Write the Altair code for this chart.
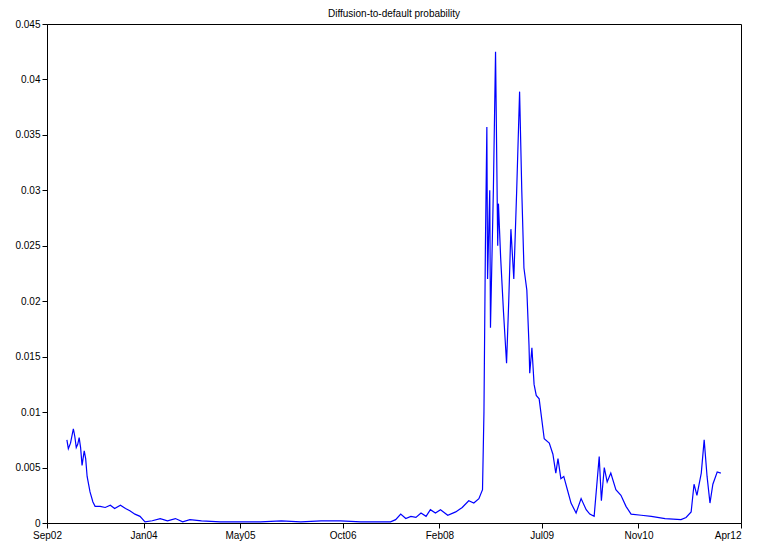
import pandas as pd
import altair as alt

# Values (decimal year, probability)
years = [2002.94, 2002.96, 2002.99, 2003.03, 2003.05, 2003.07, 2003.09, 2003.11, 2003.13, 2003.15,
         2003.18, 2003.20, 2003.22, 2003.26, 2003.30, 2003.33, 2003.40, 2003.47, 2003.54, 2003.60,
         2003.68, 2003.75, 2003.81, 2003.88, 2003.95, 2004.02, 2004.12, 2004.23, 2004.33, 2004.44,
         2004.54, 2004.64, 2004.80, 2005.06, 2005.30, 2005.61, 2005.90, 2006.17, 2006.45, 2006.72,
         2007.00, 2007.27, 2007.41, 2007.48, 2007.55, 2007.62, 2007.69, 2007.76, 2007.83, 2007.90,
         2007.96, 2008.03, 2008.10, 2008.20, 2008.31, 2008.40, 2008.49, 2008.56, 2008.63, 2008.68,
         2008.70, 2008.72, 2008.74, 2008.75, 2008.78, 2008.79, 2008.83, 2008.86, 2008.89, 2008.90,
         2008.93, 2008.97, 2009.01, 2009.04, 2009.07, 2009.11, 2009.15, 2009.19, 2009.22, 2009.25,
         2009.29, 2009.32, 2009.33, 2009.36, 2009.39, 2009.42, 2009.46, 2009.53, 2009.60, 2009.65,
         2009.69, 2009.72, 2009.76, 2009.80, 2009.85, 2009.90, 2009.97, 2010.04, 2010.11, 2010.16,
         2010.22, 2010.29, 2010.32, 2010.36, 2010.40, 2010.45, 2010.52, 2010.59, 2010.66, 2010.73,
         2010.87, 2011.01, 2011.20, 2011.42, 2011.49, 2011.56, 2011.60, 2011.64, 2011.70, 2011.74,
         2011.78, 2011.82, 2011.86, 2011.92, 2011.97]
probs = [0.0075, 0.0067, 0.0072, 0.0085, 0.0078, 0.0068, 0.0071, 0.0077, 0.0068, 0.0052,
         0.0065, 0.0058, 0.0042, 0.0028, 0.0019, 0.0015, 0.0015, 0.0014, 0.0016, 0.0013,
         0.0016, 0.0013, 0.0011, 0.0008, 0.0006, 0.0001, 0.0002, 0.0004, 0.0002, 0.0004,
         0.0001, 0.0003, 0.0002, 0.0001, 0.0001, 0.0001, 0.0002, 0.0001, 0.0002, 0.0002,
         0.0001, 0.0001, 0.0001, 0.0003, 0.0008, 0.0004, 0.0006, 0.0005, 0.0009, 0.0006,
         0.0012, 0.0009, 0.0012, 0.0007, 0.0010, 0.0014, 0.0020, 0.0018, 0.0022, 0.0030,
         0.0100, 0.0250, 0.0357, 0.0220, 0.0300, 0.0176, 0.0300, 0.0425, 0.0250, 0.0288,
         0.0240, 0.0190, 0.0144, 0.0200, 0.0265, 0.0220, 0.0300, 0.0389, 0.0300, 0.0230,
         0.0210, 0.0160, 0.0135, 0.0158, 0.0125, 0.0115, 0.0112, 0.0076, 0.0072, 0.0062,
         0.0045, 0.0058, 0.0040, 0.0042, 0.0030, 0.0018, 0.0009, 0.0022, 0.0012, 0.0008,
         0.0006, 0.0060, 0.0020, 0.0050, 0.0037, 0.0045, 0.0030, 0.0025, 0.0015, 0.0008,
         0.0007, 0.0006, 0.0004, 0.0003, 0.0005, 0.0010, 0.0035, 0.0025, 0.0045, 0.0075,
         0.0042, 0.0018, 0.0035, 0.0046, 0.0045]
tick_dates = ["2002-09-01", "2004-01-01", "2005-05-01", "2006-10-01",
              "2008-02-01", "2009-07-01", "2010-11-01", "2012-04-01"]


def to_ts(y):
    base = pd.Timestamp(year=int(y), month=1, day=1)
    return base + pd.Timedelta(days=(y - int(y)) * 365.25)


df = pd.DataFrame({"date": [to_ts(y) for y in years], "p": probs})

ticks = [pd.Timestamp(d).isoformat() for d in tick_dates]
ax_x = alt.Axis(values=ticks, format="%b%y", title=None, grid=False, labelFlush=False,
                labelAlign={"expr": "datum.index == 1 ? 'right' : 'center'"},
                tickColor="black", domainColor="black", labelColor="black",
                labelFont="Liberation Sans", labelFontSize=10)
ax_y = alt.Axis(values=[i * 0.005 for i in range(10)], title=None, grid=False,
                labelExpr="datum.value == 0 ? '0' : format(datum.value, '.3~f')",
                tickColor="black", domainColor="black", labelColor="black",
                labelFont="Liberation Sans", labelFontSize=10)

chart = alt.Chart(df).mark_line(color="#0000ff", strokeWidth=1.2).encode(
    x=alt.X("date:T", scale=alt.Scale(domain=[ticks[0], ticks[-1]]), axis=ax_x),
    y=alt.Y("p:Q", scale=alt.Scale(domain=[0, 0.045], nice=False), axis=ax_y),
).properties(
    width=694, height=499,
    title=alt.Title("Diffusion-to-default probability", font="Liberation Sans",
                    fontSize=10, fontWeight="normal", offset=0),
    autosize=alt.AutoSizeParams(type="none"),
    padding={"left": 39, "top": 16, "right": 8, "bottom": 20},
).configure_view(stroke="black", strokeWidth=1)

chart.save("out.html", embed_options={"renderer": "svg", "actions": False})
